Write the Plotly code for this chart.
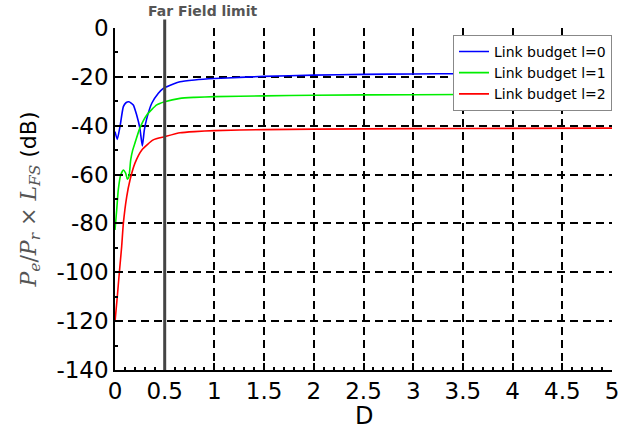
import plotly.graph_objects as go

# Data
d_l0 = [0, 0.023, 0.05, 0.084, 0.11, 0.14, 0.184, 0.218, 0.25, 0.275, 0.295, 0.32, 0.37, 0.436, 0.486,
        0.587, 0.654, 0.8, 1.0, 1.25, 1.5, 2.0, 2.5, 3.0, 3.5, 4.0, 4.5, 5.0]
db_l0 = [-42.4, -45.6, -40.4, -32.2, -30.6, -30.2, -31.5, -35.6, -41, -48.3, -41.8, -37, -30.8, -26.7, -24.7,
         -22.9, -22.0, -21.3, -20.7, -20.2, -19.8, -19.3, -19.0, -18.8, -18.7, -18.6, -18.5, -18.5]

d_l1 = [0, 0.017, 0.033, 0.057, 0.084, 0.108, 0.124, 0.14, 0.158, 0.178, 0.2, 0.25, 0.32, 0.42, 0.5,
        0.654, 0.8, 1.0, 1.5, 2.0, 3.0, 4.0, 5.0]
db_l1 = [-82.7, -74.5, -66.3, -60.2, -58.1, -59.5, -61.9, -60.9, -54, -50, -47.2, -41, -35.6, -31.5, -30.2,
         -28.8, -28.4, -28.1, -27.8, -27.5, -27.3, -27.2, -27.1]

d_l2 = [0, 0.023, 0.043, 0.067, 0.084, 0.118, 0.151, 0.2, 0.27, 0.385, 0.5, 0.654, 0.8, 1.0, 1.5,
        2.0, 3.0, 4.0, 5.0]
db_l2 = [-120.2, -110, -100.4, -89.5, -80, -69, -62.2, -55.4, -49.9, -45.8, -44.5, -42.9, -42.4, -42.0, -41.6,
         -41.4, -41.2, -41.1, -41.0]

series_names = ["Link budget l=0", "Link budget l=1", "Link budget l=2"]
series_colors = ["#0000ff", "#00ee00", "#ff0000"]
far_field_limit = 0.5

x_ticks = [0, 0.5, 1, 1.5, 2, 2.5, 3, 3.5, 4, 4.5, 5]
x_ticklabels = ["0", "0.5", "1", "1.5", "2", "2.5", "3", "3.5", "4", "4.5", "5"]
y_ticks = [0, -20, -40, -60, -80, -100, -120, -140]
y_ticklabels = ["0", "-20", "-40", "-60", "-80", "-100", "-120", "-140"]

fig = go.Figure()
for xs, ys, name, col in zip([d_l0, d_l1, d_l2], [db_l0, db_l1, db_l2], series_names, series_colors):
    fig.add_trace(go.Scatter(x=xs, y=ys, mode="lines", name=name,
                             line=dict(color=col, width=1.6, shape="spline", smoothing=0.5)))

fig.add_shape(type="line", xref="x", yref="paper", x0=far_field_limit, x1=far_field_limit,
              y0=0, y1=1.025, line=dict(color="#444444", width=3))
fig.add_annotation(text="<b>Far Field limit</b>", xref="paper", yref="paper", x=0.178, y=1.05,
                   yanchor="middle", xanchor="center", showarrow=False,
                   font=dict(family="DejaVu Sans", size=14, color="#555555"))
fig.add_annotation(text="D", xref="paper", yref="paper", x=0.5, y=0, yshift=-46,
                   yanchor="middle", xanchor="center", showarrow=False,
                   font=dict(family="DejaVu Sans", size=24, color="black"))

axis_common = dict(
    showline=True, linecolor="black", linewidth=1.5, mirror=False,
    ticks="inside", ticklen=7, tickwidth=1.5, tickcolor="black",
    showgrid=True, gridcolor="black", gridwidth=1.5, griddash="8px,5px",
    zeroline=False, automargin=False,
    tickfont=dict(family="DejaVu Sans", size=23, color="black"),
)

fig.update_xaxes(range=[0, 5], tickvals=x_ticks, ticktext=x_ticklabels,
                 minor=dict(dtick=0.1, ticks="inside", ticklen=3, tickcolor="black", showgrid=False),
                 **axis_common)
fig.update_yaxes(range=[-140, 0], tickvals=y_ticks, ticktext=y_ticklabels,
                 minor=dict(dtick=10, ticks="inside", ticklen=3, tickcolor="black", showgrid=False),
                 title=dict(text='<span style="font-family:DejaVu Serif;color:#555555"><i>P<sub>e</sub></i>/<i>P<sub>r</sub></i> × <i>L<sub>FS</sub></i></span> (dB)',
                            font=dict(family="DejaVu Sans", size=22, color="black"), standoff=14),
                 **axis_common)

fig.update_layout(
    width=638, height=430,
    margin=dict(l=115, r=26, t=28, b=60),
    paper_bgcolor="white", plot_bgcolor="white",
    showlegend=True,
    legend=dict(x=1.0, y=0.98, xanchor="right", yanchor="top",
                bgcolor="white", bordercolor="#888888", borderwidth=1,
                font=dict(family="DejaVu Sans", size=14, color="black"),
                tracegroupgap=0, itemwidth=30),
)

fig.write_html("out.html", config={"displayModeBar": False},
               post_script="document.body.style.margin='0';document.body.style.overflow='hidden';")
